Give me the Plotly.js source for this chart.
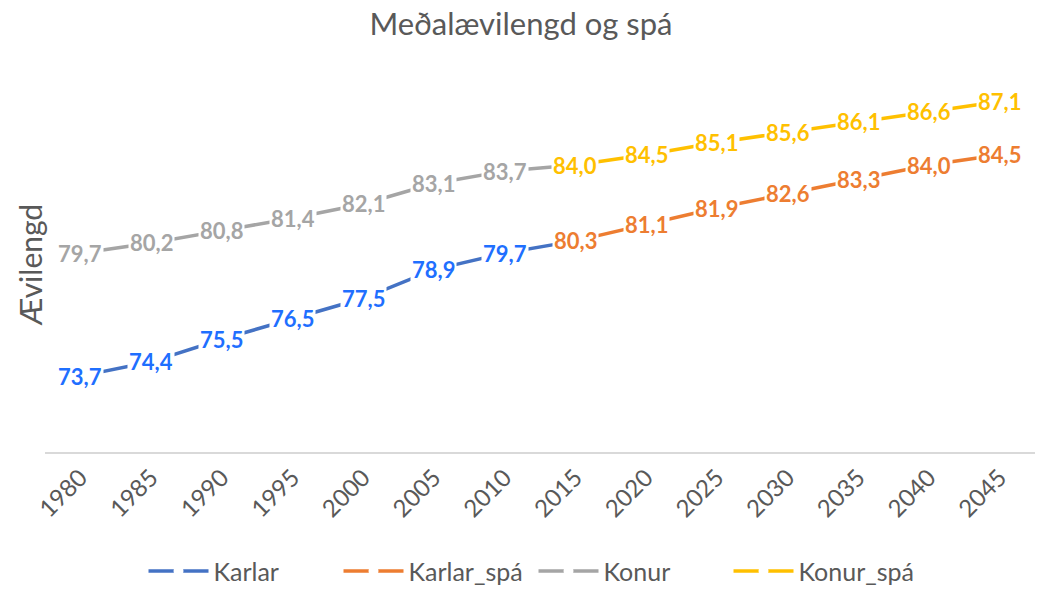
<!DOCTYPE html>
<html>
<head>
<meta charset="utf-8">
<script src="https://cdn.plot.ly/plotly-3.0.1.min.js"></script>
<style>html,body{margin:0;padding:0;background:#fff;}#chart{width:1042px;height:592px;}</style>
</head>
<body>
<div id="chart"></div>
<script>
const years = ['1980','1985','1990','1995','2000','2005','2010','2015','2020','2025','2030','2035','2040','2045'];
const karlar     = [73.7, 74.4, 75.5, 76.5, 77.5, 78.9, 79.7, 80.3, null, null, null, null, null, null];
const karlarSpa  = [null, null, null, null, null, null, null, 80.3, 81.1, 81.9, 82.6, 83.3, 84.0, 84.5];
const konur      = [79.7, 80.2, 80.8, 81.4, 82.1, 83.1, 83.7, 84.0, null, null, null, null, null, null];
const konurSpa   = [null, null, null, null, null, null, null, 84.0, 84.5, 85.1, 85.6, 86.1, 86.6, 87.1];
const seriesNames = ['Karlar', 'Karlar_spá', 'Konur', 'Konur_spá'];
const chartTitle = 'Meðalævilengd og spá';
const yTitle = 'Ævilengd';

const lineColors  = ['#4472C4', '#ED7D31', '#A5A5A5', '#FFC000'];
const labelColors = ['#1F6FFF', '#ED7D31', '#A5A5A5', '#FFC000'];
const FONT = 'Lato, "Open Sans", sans-serif';

const allSeries = [karlar, karlarSpa, konur, konurSpa];
const traces = allSeries.map((vals, i) => ({
  type: 'scatter',
  mode: 'lines+markers',
  name: seriesNames[i],
  x: years,
  y: vals,
  line: {color: lineColors[i], width: 3.5},
  marker: {color: '#ffffff', size: 10, line: {width: 0}},
  connectgaps: false,
  hoverinfo: 'x+y'
}));

const annotations = [];
allSeries.forEach((vals, i) => {
  const isBase = (i === 0 || i === 2);
  vals.forEach((v, j) => {
    if (v === null) return;
    if (isBase && j >= 7) return;
    annotations.push({
      x: j, y: v, xref: 'x', yref: 'y',
      text: '<b>' + v.toFixed(1).replace('.', ',') + '</b>',
      showarrow: false,
      bgcolor: '#ffffff',
      borderpad: 1,
      font: {family: FONT, size: 22, color: labelColors[i]}
    });
  });
});
annotations.push({
  text: yTitle, xref: 'paper', yref: 'paper', x: -0.015, y: 0.455,
  xanchor: 'center', yanchor: 'middle', textangle: -90, showarrow: false,
  font: {family: FONT, size: 30, color: '#595959'}
});

const layout = {
  width: 1042, height: 592,
  paper_bgcolor: '#ffffff', plot_bgcolor: '#ffffff',
  margin: {l: 45, r: 7, t: 42, b: 140},
  title: {text: chartTitle, x: 0.5, xanchor: 'center', y: 0.96, yanchor: 'middle',
          font: {family: FONT, size: 31, color: '#595959'}},
  xaxis: {
    type: 'category', range: [-0.5, 13.5], automargin: false,
    showline: true, linecolor: '#D9D9D9', linewidth: 2,
    showgrid: false, zeroline: false, ticks: '',
    tickangle: -45,
    tickfont: {family: FONT, size: 24, color: '#595959'}
  },
  yaxis: {
    range: [70, 90], showgrid: false, zeroline: false, showline: false,
    showticklabels: false, ticks: '', automargin: false
  },
  showlegend: true,
  legend: {orientation: 'h', x: 0.512, xanchor: 'center', xref: 'container',
           y: 0.035, yanchor: 'middle', yref: 'container',
           font: {family: FONT, size: 25, color: '#595959'}, itemwidth: 60,
           entrywidth: 120},
  annotations: annotations
};

Plotly.newPlot('chart', traces, layout, {displayModeBar: false, staticPlot: true});
</script>
</body>
</html>
